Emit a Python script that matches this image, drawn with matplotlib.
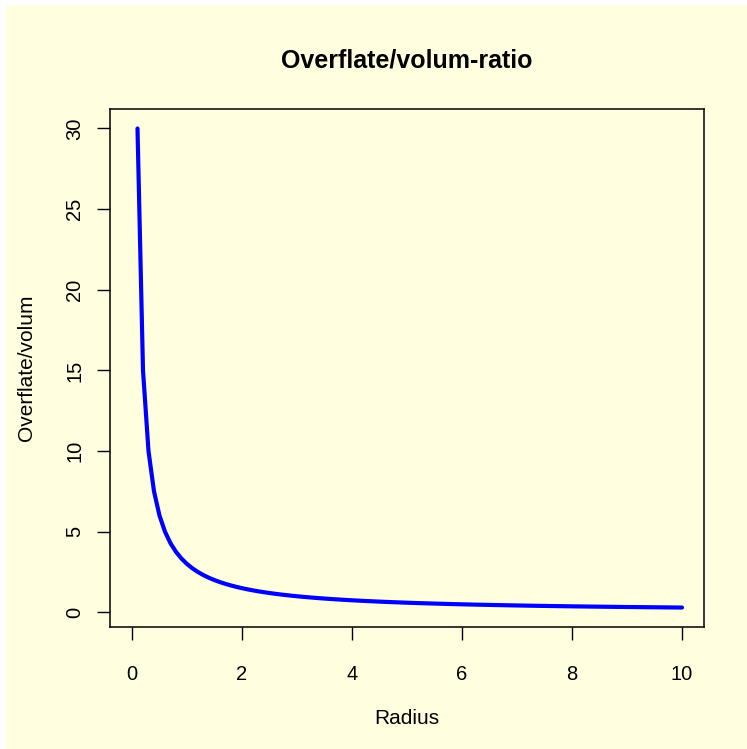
import matplotlib.pyplot as plt
from matplotlib.patches import Rectangle

plt.rcParams['font.family'] = ['Liberation Sans', 'DejaVu Sans']

radius = [
    0.1, 0.2, 0.3, 0.4, 0.5, 0.6, 0.7, 0.8, 0.9, 1.0,
    1.1, 1.2, 1.3, 1.4, 1.5, 1.6, 1.7, 1.8, 1.9, 2.0,
    2.1, 2.2, 2.3, 2.4, 2.5, 2.6, 2.7, 2.8, 2.9, 3.0,
    3.1, 3.2, 3.3, 3.4, 3.5, 3.6, 3.7, 3.8, 3.9, 4.0,
    4.1, 4.2, 4.3, 4.4, 4.5, 4.6, 4.7, 4.8, 4.9, 5.0,
    5.1, 5.2, 5.3, 5.4, 5.5, 5.6, 5.7, 5.8, 5.9, 6.0,
    6.1, 6.2, 6.3, 6.4, 6.5, 6.6, 6.7, 6.8, 6.9, 7.0,
    7.1, 7.2, 7.3, 7.4, 7.5, 7.6, 7.7, 7.8, 7.9, 8.0,
    8.1, 8.2, 8.3, 8.4, 8.5, 8.6, 8.7, 8.8, 8.9, 9.0,
    9.1, 9.2, 9.3, 9.4, 9.5, 9.6, 9.7, 9.8, 9.9, 10.0,
]
ratio = [
    30.000, 15.000, 10.000, 7.500, 6.000, 5.000, 4.286, 3.750, 3.333, 3.000,
    2.727, 2.500, 2.308, 2.143, 2.000, 1.875, 1.765, 1.667, 1.579, 1.500,
    1.429, 1.364, 1.304, 1.250, 1.200, 1.154, 1.111, 1.071, 1.034, 1.000,
    0.968, 0.938, 0.909, 0.882, 0.857, 0.833, 0.811, 0.789, 0.769, 0.750,
    0.732, 0.714, 0.698, 0.682, 0.667, 0.652, 0.638, 0.625, 0.612, 0.600,
    0.588, 0.577, 0.566, 0.556, 0.545, 0.536, 0.526, 0.517, 0.508, 0.500,
    0.492, 0.484, 0.476, 0.469, 0.462, 0.455, 0.448, 0.441, 0.435, 0.429,
    0.423, 0.417, 0.411, 0.405, 0.400, 0.395, 0.390, 0.385, 0.380, 0.375,
    0.370, 0.366, 0.361, 0.357, 0.353, 0.349, 0.345, 0.341, 0.337, 0.333,
    0.330, 0.326, 0.323, 0.319, 0.316, 0.313, 0.309, 0.306, 0.303, 0.300,
]
xticks = [0, 2, 4, 6, 8, 10]
yticks = [0, 5, 10, 15, 20, 25, 30]

W, H = 747, 749
bg = '#FFFFE0'

fig = plt.figure(figsize=(W / 100, H / 100), dpi=100)
fig.patch.set_facecolor('white')
# light yellow panel behind everything, leaving a thin white strip top/left
fig.patches.append(Rectangle((6 / W, 0), 1 - 6 / W, 1 - 5 / H,
                             transform=fig.transFigure, facecolor=bg,
                             edgecolor='none', zorder=-10))

ax = fig.add_axes([110 / W, 1 - 626.7 / H, (704 - 110) / W, (626.7 - 109.3) / H])
ax.set_zorder(1)
ax.set_facecolor(bg)
ax.plot(radius, ratio, color='blue', lw=3, solid_capstyle='round',
        solid_joinstyle='round')

ax.set_xlim(-0.4, 10.4)
ax.set_ylim(-0.888, 31.188)
ax.set_xticks(xticks)
ax.set_yticks(yticks)
ax.set_yticklabels([str(v) for v in yticks], rotation=90, va='center')
ax.tick_params(length=9.4, width=1, colors='black', labelsize=14.5)
ax.tick_params(axis='x', pad=18)
ax.tick_params(axis='y', pad=9)
for s in ax.spines.values():
    s.set_linewidth(1.1)

fig.text(407 / W, 1 - 60.5 / H, 'Overflate/volum-ratio', ha='center',
         va='center', fontsize=18, fontweight='bold')
fig.text(407 / W, 1 - 718 / H, 'Radius', ha='center', va='center',
         fontsize=15)
fig.text(27 / W, 1 - 368 / H, 'Overflate/volum', ha='center', va='center',
         rotation=90, fontsize=15)

fig.savefig('out.png', dpi=100, facecolor=fig.get_facecolor())
